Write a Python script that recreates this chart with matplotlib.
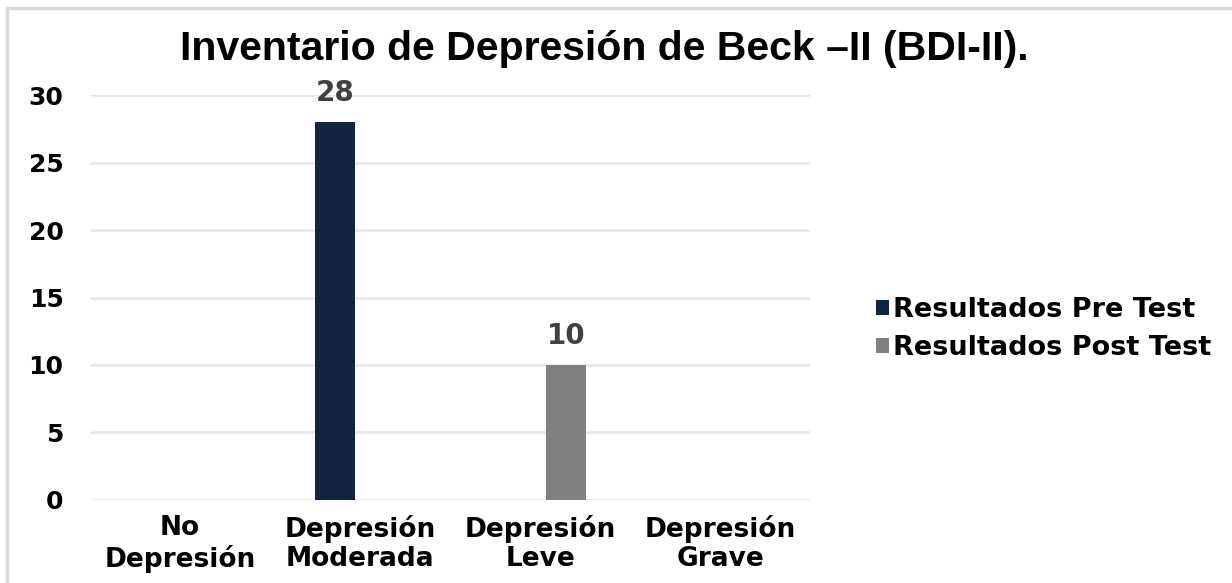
import matplotlib.pyplot as plt
from matplotlib.patches import Rectangle
import numpy as np

categorias = ['No\nDepresión', 'Depresión\nModerada', 'Depresión\nLeve', 'Depresión\nGrave']
pre_test = [0, 28, 0, 0]
post_test = [0, 0, 10, 0]
series = ['Resultados Pre Test', 'Resultados Post Test']
colores = ['#12243F', '#808080']
yticks = [0, 5, 10, 15, 20, 25, 30]

fig = plt.figure(figsize=(12.32, 5.83), dpi=100)
ax = fig.add_axes([0.073, 0.1424, 0.5845, 0.6946])

# marco gris alrededor del grafico
fig.patches.append(Rectangle((7 / 1232, -0.1), 1.2, 1.0 - 8 / 583 + 0.1,
                             transform=fig.transFigure, fill=False,
                             edgecolor='#D9D9D9', linewidth=2.5))

x = np.arange(len(categorias))
w = 0.222
b1 = ax.bar(x - 0.138, pre_test, w, color=colores[0], label=series[0], zorder=3)
b2 = ax.bar(x + 0.143, post_test, w, color=colores[1], label=series[1], zorder=3)

for bars, vals in [(b1, pre_test), (b2, post_test)]:
    for r, v in zip(bars, vals):
        if v > 0:
            ax.annotate(str(v), (r.get_x() + r.get_width() / 2, v),
                        xytext=(0, 11), textcoords='offset points',
                        ha='center', va='bottom', fontsize=20,
                        fontweight='bold', color='#404040', family='DejaVu Sans')

ax.set_xlim(-0.5, 3.5)
ax.set_ylim(0, 30)
ax.set_yticks(yticks)
ax.set_xticks(x)
ax.set_xticklabels(categorias, fontsize=19, fontweight='bold',
                   family='DejaVu Sans', linespacing=1.15)
for t in ax.get_yticklabels():
    t.set_fontsize(18)
    t.set_fontweight('bold')
    t.set_family('DejaVu Sans')
ax.tick_params(axis='both', length=0)
ax.tick_params(axis='y', pad=19)
ax.tick_params(axis='x', pad=11)
ax.grid(axis='y', color='#E6E6E6', linewidth=1.8, zorder=0)
for s in ax.spines.values():
    s.set_visible(False)

fig.text(604 / 1232, 1 - 49 / 583, 'Inventario de Depresión de Beck –II (BDI-II).',
         ha='center', va='center', fontsize=29.5, fontweight='bold',
         family='Liberation Sans')

leg = fig.legend(handles=[b1, b2], loc='center left',
                 bbox_to_anchor=(852 / 1232, 1 - 329 / 583), frameon=False,
                 prop={'family': 'DejaVu Sans', 'weight': 'bold', 'size': 19.5},
                 handlelength=0.48, handleheight=0.48, handletextpad=0.15,
                 labelspacing=0.45)

fig.savefig('out.png', dpi=100)
